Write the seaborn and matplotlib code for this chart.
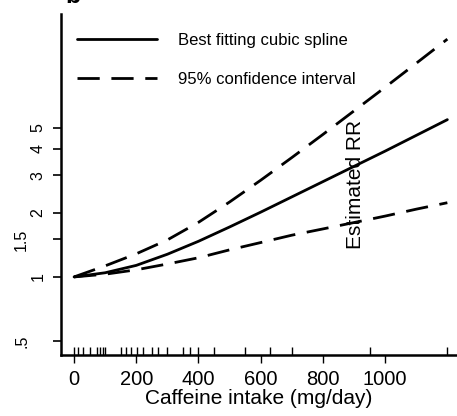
import numpy as np
import pandas as pd
import matplotlib
matplotlib.use('Agg')
import matplotlib.pyplot as plt
import seaborn as sns

# caffeine intake grid (mg/day) and estimated relative risks
caffeine = [0, 100, 200, 300, 400, 500, 600, 700, 800, 900, 1000, 1100, 1200]
rr_fit = [1.00, 1.046, 1.133, 1.278, 1.470, 1.716, 2.014, 2.375, 2.801, 3.304, 3.896, 4.618, 5.474]
rr_upper = [1.00, 1.127, 1.284, 1.492, 1.804, 2.248, 2.844, 3.633, 4.665, 6.019, 7.768, 10.07, 13.07]
rr_lower = [1.00, 1.03, 1.08, 1.15, 1.23, 1.34, 1.45, 1.57, 1.68, 1.80, 1.93, 2.08, 2.23]

# individual study intake levels (rug)
rug_points = [0, 14, 30, 51, 73, 84, 92, 100, 151, 166, 183, 201, 223, 250, 271,
              300, 349, 373, 400, 450, 550, 630, 700, 950, 1200]

x_ticks = [0, 200, 400, 600, 800, 1000]
y_major = [1, 2, 3, 4, 5]
y_major_labels = ['1', '2', '3', '4', '5']
y_minor = [0.5, 1.5]
y_minor_labels = ['.5', '1.5']

FIT_LABEL = 'Best fitting cubic spline'
CI_LABEL = '95% confidence interval'


def montar_dados():
    """Long format table: one row per point, one unit per curve"""
    partes = []
    for band, valores, kind in [('fit', rr_fit, FIT_LABEL),
                                ('upper', rr_upper, CI_LABEL),
                                ('lower', rr_lower, CI_LABEL)]:
        partes.append(pd.DataFrame({'caffeine': caffeine, 'rr': valores,
                                    'kind': kind, 'band': band}))
    return pd.concat(partes, ignore_index=True)


def main():
    sns.set_style('ticks', rc={'axes.edgecolor': 'black', 'text.color': 'black',
                               'axes.labelcolor': 'black', 'xtick.color': 'black',
                               'ytick.color': 'black'})
    plt.rcParams['font.family'] = ['Liberation Sans', 'DejaVu Sans']

    df = montar_dados()

    fig = plt.figure(figsize=(4.57, 4.16), dpi=100)
    ax = fig.add_axes([61 / 457, 61 / 416, 396 / 457, 341 / 416])

    sns.lineplot(data=df, x='caffeine', y='rr', style='kind', units='band',
                 estimator=None, color='black', lw=2.0, ax=ax,
                 style_order=[FIT_LABEL, CI_LABEL],
                 dashes={FIT_LABEL: '', CI_LABEL: (8, 4.2)})
    sns.rugplot(x=rug_points, height=0.022, color='black', lw=2.0, ax=ax)

    ax.set_yscale('log')
    ax.set_xlim(-42, 1231)
    ax.set_ylim(0.430, 17.15)

    ax.set_xticks(x_ticks)
    ax.set_yticks(y_major, labels=y_major_labels)
    ax.set_yticks(y_minor, labels=y_minor_labels, minor=True)

    ax.tick_params(axis='x', labelsize=14.5, length=6, width=1, pad=5)
    ax.tick_params(axis='y', which='both', labelsize=11.5, length=6, width=1.2,
                   labelrotation=90)
    ax.tick_params(axis='y', which='major', pad=5)
    ax.tick_params(axis='y', which='minor', pad=17)
    for lab in ax.get_yticklabels(which='both'):
        lab.set_va('center')

    sns.despine(ax=ax)
    for side in ['left', 'bottom']:
        ax.spines[side].set_linewidth(1.8)

    ax.set_xlabel('Caffeine intake (mg/day)', fontsize=15, labelpad=0)
    # the y title sits inside the plot in the original
    ax.set_ylabel('Estimated RR', fontsize=15)
    ax.yaxis.set_label_coords(0.768, 0.5)

    sns.move_legend(ax, 'upper left', bbox_to_anchor=(0.04, 0.945),
                    frameon=False, title=None, fontsize=12,
                    handlelength=4.8, handletextpad=1.25, labelspacing=1.45,
                    borderpad=0, borderaxespad=0)

    # panel letter, cut off at the top edge
    fig.text(65 / 457, 1 - 3 / 416, 'b', fontsize=18, fontweight='bold',
             va='baseline')

    fig.savefig('out.png', dpi=100)
    plt.close(fig)


if __name__ == '__main__':
    main()
